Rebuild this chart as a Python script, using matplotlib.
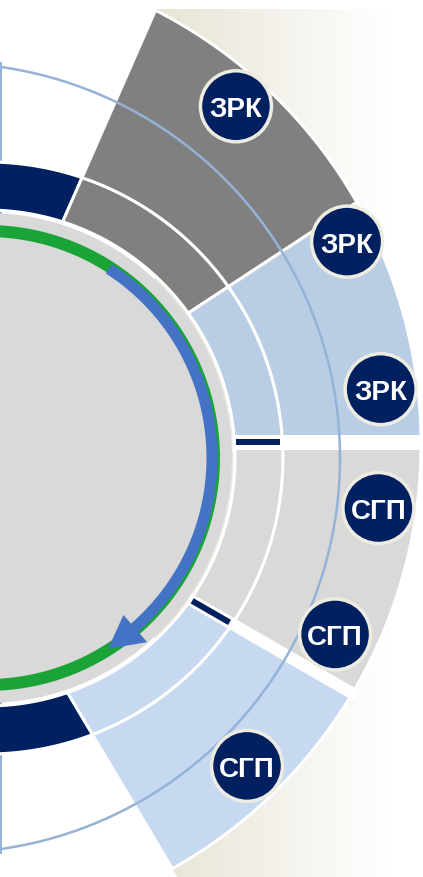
import numpy as np
import matplotlib.pyplot as plt
from matplotlib.patches import Polygon, Circle

# --- data -------------------------------------------------------------
badge_labels = ['ЗРК', 'ЗРК', 'ЗРК', 'СГП', 'СГП', 'СГП']
# sectors, top to bottom (navy end blocks belong to the inner ring only)
inner_colors = ['#002060', '#808080', '#B9CDE5', '#D9D9D9', '#C6D9F1', '#002060']
outer_colors = [None, '#808080', '#B9CDE5', '#D9D9D9', '#C6D9F1', None]
# sector borders: (origin x, origin y, angle in degrees)
borders = [(-13, 459, 120), (-34, 443, 66.3), (-8, 443, 33.3), (-35, 442.5, 0),
           (-83, 443, -30), (-82, 443, -59.2), (-13, 459, -120)]
gap_borders = [3, 4]
gap_widths = [15, 12]
arrow_start, arrow_end, arrow_tip = 57.2, -49, -57.6

# --- layout -----------------------------------------------------------
W, H = 423, 878
PX = 72 / 100
C1 = (-13, 459)
C2 = (-66, 445)
disk_r = 245
ring1 = ((*C1, 248), (*C1, 296))
ring2 = ((*C1, 296), (*C2, 487))
badge_ang = [48.2, 26.1, 7.0, -8.2, -25.4, -45.8]
badge_rad = [453, 460, 450, 449, 444, 449]

navy = '#002060'
cream = np.array([231, 228, 213]) / 255


def to_xy(cx, cy, r, a):
    a = np.radians(a)
    return cx + r * np.cos(a), cy - r * np.sin(a)


def ray_hit(ox, oy, ang, circ):
    cx, cy, R = circ
    d = np.array([np.cos(np.radians(ang)), -np.sin(np.radians(ang))])
    p = np.array([ox - cx, oy - cy])
    b = p @ d
    t = -b + np.sqrt(b * b - (p @ p - R * R))
    return np.array([ox, oy]) + t * d


def arc_between(circ, p, q, n=150):
    cx, cy, R = circ
    a0 = np.degrees(np.arctan2(cy - p[1], p[0] - cx))
    a1 = np.degrees(np.arctan2(cy - q[1], q[0] - cx))
    x, y = to_xy(cx, cy, R, np.linspace(a0, a1, n))
    return np.column_stack([x, y])


def sector(b1, b2, inner, outer):
    p1, p2 = ray_hit(*b1, inner), ray_hit(*b2, inner)
    q1, q2 = ray_hit(*b1, outer), ray_hit(*b2, outer)
    return np.vstack([arc_between(inner, p1, p2), arc_between(outer, q2, q1)])


fig = plt.figure(figsize=(W / 100, H / 100), dpi=100)
ax = fig.add_axes([0, 0, 1, 1])

# cream gradient behind the outer ring
gx = np.linspace(155, W, 300)
t = np.clip((gx - 155) / (390 - 155), 0, 1)
img = cream[None, None, :] * (1 - t)[None, :, None] + t[None, :, None]
im = ax.imshow(img, extent=(155, W, H, 10), aspect='auto', zorder=0)
far1 = ray_hit(*borders[1], (0, 0, 3000))
far5 = ray_hit(*borders[5], (0, 0, 3000))
clip = Polygon([borders[1][:2], far1, (3000, -3000), (3000, 3000), far5, borders[5][:2]],
               closed=True, transform=ax.transData)
im.set_clip_path(clip)

# thin outline: straight left side
ax.plot([0.8, 0.8], [64, 854], color='#95B3D7', lw=2 * PX, zorder=0.5)

# disk
ax.add_patch(Circle(C1, disk_r, fc='#D9D9D9', ec='none', zorder=1))

for i in range(6):
    ax.add_patch(Polygon(sector(borders[i], borders[i + 1], *ring1), closed=True,
                         fc=inner_colors[i], ec='white', lw=3 * PX, zorder=1))
    if outer_colors[i]:
        ax.add_patch(Polygon(sector(borders[i], borders[i + 1], *ring2), closed=True,
                             fc=outer_colors[i], ec='white', lw=3 * PX, zorder=1))

# white gaps with small navy bars in the inner ring
for k, w in zip(gap_borders, gap_widths):
    b = borders[k]
    s = ray_hit(*b, (*C1, 246))
    e = ray_hit(*b, (*C2, 492))
    ax.plot([s[0], e[0]], [s[1], e[1]], color='white', lw=w * PX,
            solid_capstyle='butt', zorder=1.5)
    s = ray_hit(*b, (*C1, 250))
    e = ray_hit(*b, (*C1, 293))
    ax.plot([s[0], e[0]], [s[1], e[1]], color=navy, lw=6 * PX,
            solid_capstyle='butt', zorder=1.6)

# green track and blue arrow
a = np.linspace(100, -100, 400)
ax.plot(*to_xy(*C1, 227, a), color='#1AA337', lw=12 * PX, solid_capstyle='butt', zorder=2)
a = np.linspace(arrow_start, arrow_end, 300)
ax.plot(*to_xy(*C1, 225, a), color='#4472C4', lw=11 * PX, solid_capstyle='butt', zorder=2.1)
head = [to_xy(*C1, 208, arrow_end), to_xy(*C1, 244, arrow_end), to_xy(*C1, 226, arrow_tip)]
ax.add_patch(Polygon(head, closed=True, fc='#4472C4', ec='none', zorder=2.1))

# thin circle
a = np.linspace(0, 360, 720)
ax.plot(*to_xy(-55, 459, 395, a), color='#95B3D7', lw=2.5 * PX, zorder=3)

# badges
for lab, ang, r in zip(badge_labels, badge_ang, badge_rad):
    x, y = to_xy(*C2, r, ang)
    ax.add_patch(Circle((x, y), 35.5, fc=navy, ec='#EEECE1', lw=3.5 * PX, zorder=4))
    ax.text(x, y + 10, lab, color='white', fontsize=20, fontweight='bold',
            family='Liberation Sans', ha='center', va='baseline', zorder=5)

ax.set_xlim(0, W)
ax.set_ylim(H, 0)
ax.axis('off')
fig.savefig('out.png', dpi=100, facecolor='white')
